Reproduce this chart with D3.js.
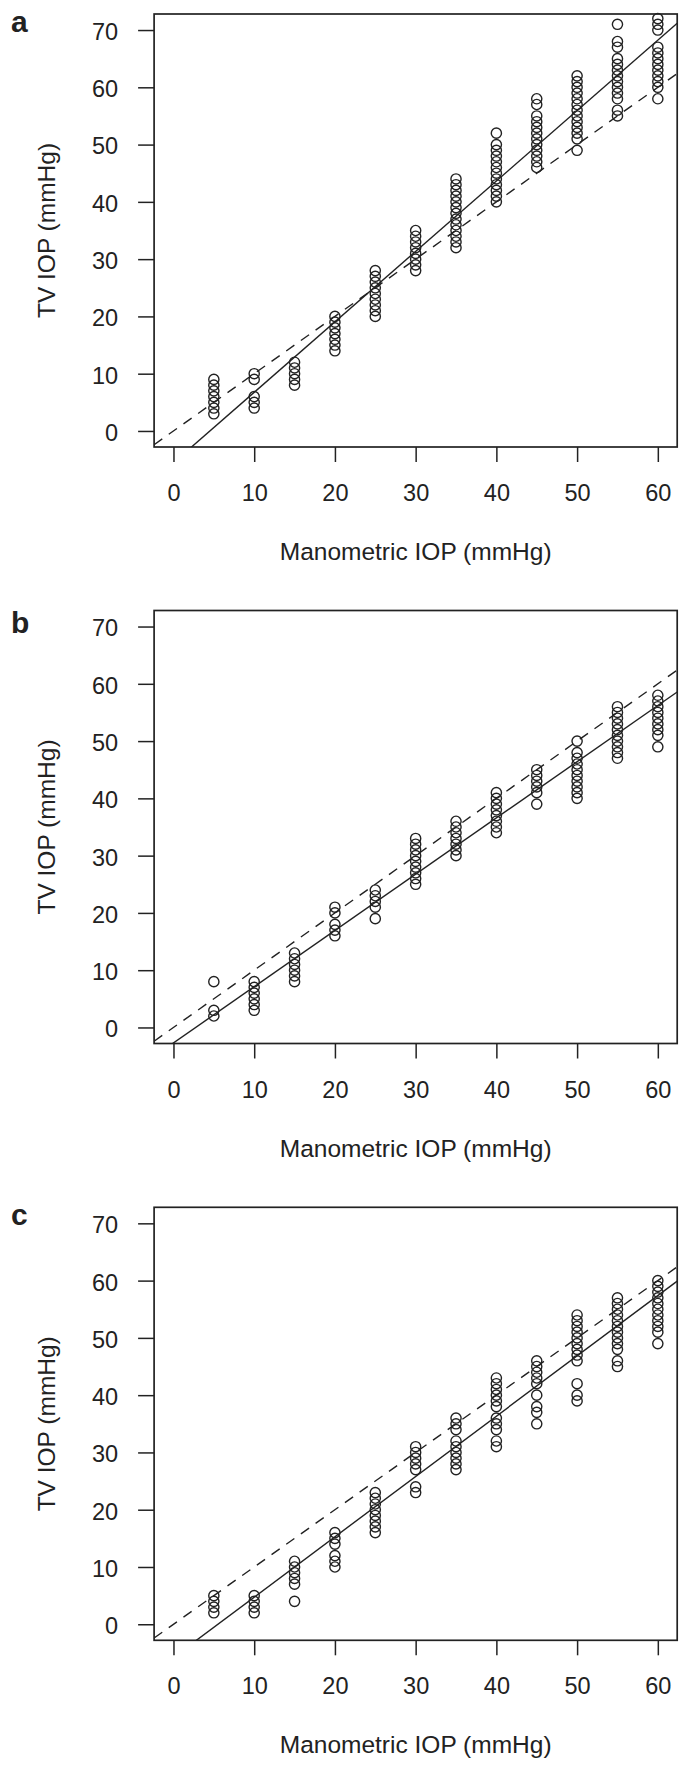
<!DOCTYPE html>
<html>
<head>
<meta charset="utf-8">
<script src="https://cdn.jsdelivr.net/npm/d3@7"></script>
<style>
  body { margin: 0; background: #fff; }
  svg { display: block; }
  text { font-family: "Liberation Sans", Arial, Helvetica, sans-serif; fill: #222; }
</style>
</head>
<body>
<svg id="chart" width="692" height="1772"></svg>
<script>
// ---------- data ----------
const xLevels = [5, 10, 15, 20, 25, 30, 35, 40, 45, 50, 55, 60];
const xTicks = [0, 10, 20, 30, 40, 50, 60];
const yTicks = [0, 10, 20, 30, 40, 50, 60, 70];
const panelLetters = ["a", "b", "c"];
const xTitle = "Manometric IOP (mmHg)";
const yTitle = "TV IOP (mmHg)";

// TV IOP readings at each manometric level (one inner list per level in xLevels)
const seriesA = [
  [3, 4, 5, 6, 7, 8, 9],
  [4, 5, 6, 9, 10],
  [8, 9, 10, 11, 12],
  [14, 15, 16, 17, 18, 19, 20],
  [20, 21, 22, 23, 24, 25, 26, 27, 28],
  [28, 29, 30, 31, 32, 33, 34, 35],
  [32, 33, 34, 35, 36, 37, 38, 39, 40, 41, 42, 43, 44],
  [40, 41, 42, 43, 44, 45, 46, 47, 48, 49, 50, 52],
  [46, 47, 48, 49, 50, 51, 52, 53, 54, 55, 57, 58],
  [49, 51, 52, 53, 54, 55, 56, 57, 58, 59, 60, 61, 62],
  [55, 56, 58, 59, 60, 61, 62, 63, 64, 65, 67, 68, 71],
  [58, 60, 61, 62, 63, 64, 65, 66, 67, 70, 71, 72]
];
const seriesB = [
  [2, 3, 8],
  [3, 4, 5, 6, 7, 8],
  [8, 9, 10, 11, 12, 13],
  [16, 17, 18, 20, 21],
  [19, 21, 22, 23, 24],
  [25, 26, 27, 28, 29, 30, 31, 32, 33],
  [30, 31, 32, 33, 34, 35, 36],
  [34, 35, 36, 37, 38, 39, 40, 41],
  [39, 41, 42, 43, 44, 45],
  [40, 41, 42, 43, 44, 45, 46, 47, 48, 50],
  [47, 48, 49, 50, 51, 52, 53, 54, 55, 56],
  [49, 51, 52, 53, 54, 55, 56, 57, 58]
];
const seriesC = [
  [2, 3, 4, 5],
  [2, 3, 4, 5],
  [4, 7, 8, 9, 10, 11],
  [10, 11, 12, 14, 15, 16],
  [16, 17, 18, 19, 20, 21, 22, 23],
  [23, 24, 27, 28, 29, 30, 31],
  [27, 28, 29, 30, 31, 32, 34, 35, 36],
  [31, 32, 34, 35, 36, 38, 39, 40, 41, 42, 43],
  [35, 37, 38, 40, 42, 43, 44, 45, 46],
  [39, 40, 42, 46, 47, 48, 49, 50, 51, 52, 53, 54],
  [45, 46, 48, 49, 50, 51, 52, 53, 54, 55, 56, 57],
  [49, 51, 52, 53, 54, 55, 56, 57, 58, 59, 60]
];
// fitted regression (solid) lines
const fitSlopes = [1.23, 0.982, 1.053];
const fitIntercepts = [-5.55, -2.7, -5.79];
// line of identity (dashed)
const identitySlope = 1;
const identityIntercept = 0;

const allSeries = [seriesA, seriesB, seriesC];

// ---------- layout ----------
const svg = d3.select("#chart");
const L = 154.1, R = 677.2;
const pw = R - L, ph = 433;
const panelTops = [14, 610.5, 1207.3];
const letterBaselines = [18, 22.6, 18];
const ink = "#222";

allSeries.forEach((series, i) => {
  const top = panelTops[i];
  const g = svg.append("g").attr("transform", `translate(${L},${top})`);

  const x = d3.scaleLinear().domain([-2.4, 62.4]).range([0, pw]);
  const y = d3.scaleLinear().domain([-2.8, 72.8]).range([ph, 0]);

  const clipId = "clip" + i;
  g.append("clipPath").attr("id", clipId)
    .append("rect").attr("x", 0).attr("y", 0).attr("width", pw).attr("height", ph);

  // axes
  const xAxis = d3.axisBottom(x).tickValues(xTicks).tickSize(15).tickPadding(22.5).tickFormat(d3.format("d"));
  const gx = g.append("g").attr("transform", `translate(0,${ph})`).call(xAxis);
  gx.select(".domain").remove();
  gx.selectAll(".tick line").attr("stroke", ink).attr("stroke-width", 1.5);
  gx.selectAll(".tick text").attr("font-size", 23.5).attr("fill", ink)
    .style("font-family", '"Liberation Sans", Arial, sans-serif');

  const yAxis = d3.axisLeft(y).tickValues(yTicks).tickSize(16).tickPadding(20).tickFormat(d3.format("d"));
  const gy = g.append("g").call(yAxis);
  gy.select(".domain").remove();
  gy.selectAll(".tick line").attr("stroke", ink).attr("stroke-width", 1.5);
  gy.selectAll(".tick text").attr("font-size", 23.5).attr("fill", ink).attr("dy", "0.4em")
    .style("font-family", '"Liberation Sans", Arial, sans-serif');

  // lines
  const lg = g.append("g").attr("clip-path", `url(#${clipId})`);
  const xd = x.domain();
  const lineGen = d3.line().x(d => x(d[0])).y(d => y(d[1]));
  lg.append("path")
    .attr("d", lineGen(xd.map(v => [v, identityIntercept + identitySlope * v])))
    .attr("fill", "none").attr("stroke", ink).attr("stroke-width", 1.4)
    .attr("stroke-dasharray", "10,8");
  lg.append("path")
    .attr("d", lineGen(xd.map(v => [v, fitIntercepts[i] + fitSlopes[i] * v])))
    .attr("fill", "none").attr("stroke", ink).attr("stroke-width", 1.4);

  // points
  const pts = [];
  xLevels.forEach((xv, j) => series[j].forEach(v => pts.push([xv, v])));
  g.append("g").selectAll("circle").data(pts).join("circle")
    .attr("cx", d => x(d[0])).attr("cy", d => y(d[1])).attr("r", 5.1)
    .attr("fill", "none").attr("stroke", ink).attr("stroke-width", 1.4);

  // box
  g.append("rect").attr("x", 0).attr("y", 0).attr("width", pw).attr("height", ph)
    .attr("fill", "none").attr("stroke", ink).attr("stroke-width", 1.7);

  // titles
  g.append("text").attr("x", pw / 2).attr("y", ph + 113)
    .attr("text-anchor", "middle").attr("font-size", 24.5).text(xTitle);
  svg.append("text")
    .attr("transform", `translate(55,${top + ph / 2}) rotate(-90)`)
    .attr("text-anchor", "middle").attr("font-size", 24.5).text(yTitle);

  // panel letter
  svg.append("text").attr("x", 11).attr("y", top + letterBaselines[i])
    .attr("font-size", 30).attr("font-weight", "bold").text(panelLetters[i]);
});
</script>
</body>
</html>
